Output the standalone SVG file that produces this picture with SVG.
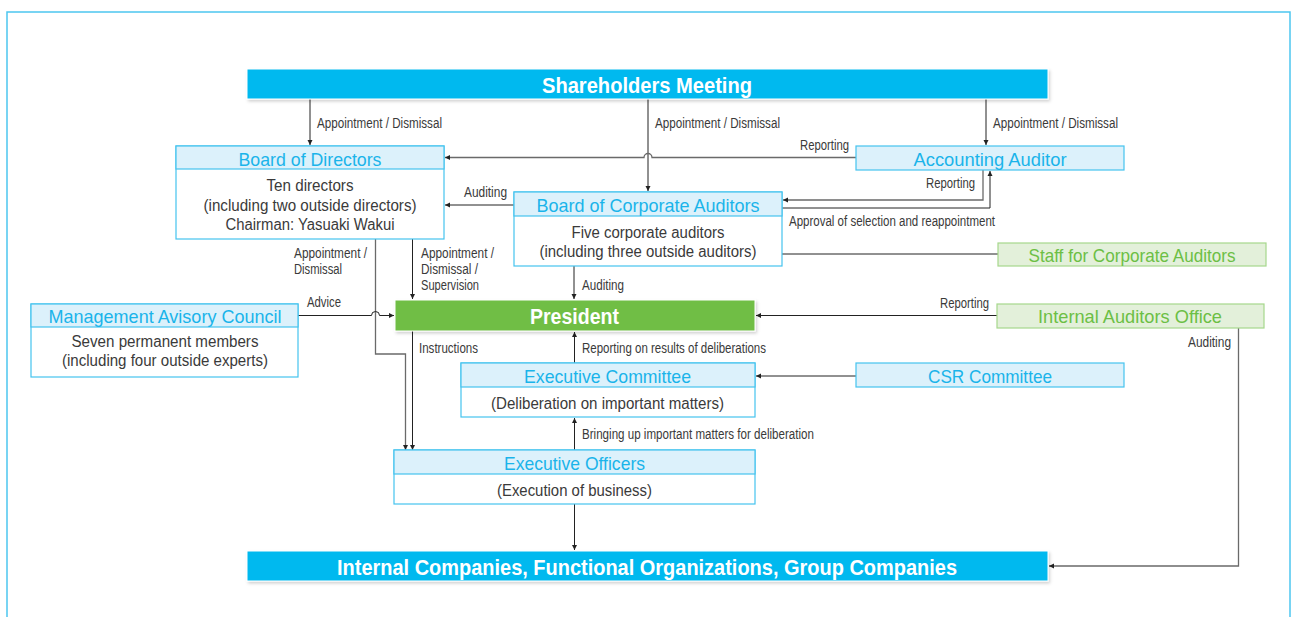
<svg xmlns="http://www.w3.org/2000/svg" width="1292" height="617" viewBox="0 0 1292 617">
<style>
.lbl{font-family:"Liberation Sans Narrow","Liberation Sans",Arial,sans-serif;font-size:13.8px;fill:#3a3a3a}
.ttl{font-family:"Liberation Sans Narrow","Liberation Sans",Arial,sans-serif;font-size:19px;fill:#1ab4ea;text-anchor:middle}
.gttl{font-family:"Liberation Sans Narrow","Liberation Sans",Arial,sans-serif;font-size:19px;fill:#6cbf45;text-anchor:middle}
.body{font-family:"Liberation Sans Narrow","Liberation Sans",Arial,sans-serif;font-size:16px;fill:#3a3a3a;text-anchor:middle}
.bar{font-family:"Liberation Sans Narrow","Liberation Sans",Arial,sans-serif;font-size:22px;font-weight:bold;fill:#ffffff;text-anchor:middle}
.hdr{fill:#dcf1fb;stroke:#45c3ef;stroke-width:1.2}
.box{fill:#ffffff;stroke:#45c3ef;stroke-width:1.2}
.gbox{fill:#e3f0da;stroke:#a6d78c;stroke-width:1.2}
.blk{fill:none;stroke:#222;stroke-width:1}
.gry{fill:none;stroke:#6a6a6a;stroke-width:1.3}
</style>
<defs>
<marker id="ah" markerWidth="6" markerHeight="6" refX="5" refY="3" orient="auto" markerUnits="userSpaceOnUse">
<path d="M0,0.5 L5,3 L0,5.5 Z" fill="#222"/>
</marker>
<filter id="sh" x="-5%" y="-30%" width="110%" height="170%">
<feDropShadow dx="1.5" dy="2" stdDeviation="1.5" flood-color="#000" flood-opacity="0.18"/>
</filter>
</defs>
<rect x="7" y="12" width="1283" height="620" fill="#ffffff" stroke="#4cc6f0" stroke-width="1.5"/>

<g id="connectors">
<line class="blk" x1="310" y1="99" x2="310" y2="145" marker-end="url(#ah)"/>
<text class="lbl" x="317" y="127.5" textLength="125" lengthAdjust="spacingAndGlyphs">Appointment / Dismissal</text>
<line class="blk" x1="648" y1="99" x2="648" y2="191" marker-end="url(#ah)"/>
<text class="lbl" x="655" y="127.5" textLength="125" lengthAdjust="spacingAndGlyphs">Appointment / Dismissal</text>
<line class="blk" x1="986" y1="99" x2="986" y2="145" marker-end="url(#ah)"/>
<text class="lbl" x="993" y="127.5" textLength="125" lengthAdjust="spacingAndGlyphs">Appointment / Dismissal</text>

<path class="gry" d="M856,157.5 H652 A4,4 0 0 0 644,157.5 H445" marker-end="url(#ah)"/>
<text class="lbl" x="800" y="149.5" textLength="49" lengthAdjust="spacingAndGlyphs">Reporting</text>

<line class="blk" x1="514" y1="205" x2="445" y2="205" marker-end="url(#ah)"/>
<text class="lbl" x="464" y="196.5" textLength="43" lengthAdjust="spacingAndGlyphs">Auditing</text>

<path class="gry" d="M983,170 V200 H783" marker-end="url(#ah)"/>
<text class="lbl" x="926" y="187.5" textLength="49" lengthAdjust="spacingAndGlyphs">Reporting</text>
<path class="blk" d="M782,208 H990 V171" marker-end="url(#ah)"/>
<text class="lbl" x="789" y="225.5" textLength="206" lengthAdjust="spacingAndGlyphs">Approval of selection and reappointment</text>

<line class="blk" x1="782" y1="254" x2="998" y2="254"/>

<line class="blk" x1="574" y1="266" x2="574" y2="299" marker-end="url(#ah)"/>
<text class="lbl" x="582" y="289.5" textLength="42" lengthAdjust="spacingAndGlyphs">Auditing</text>

<path class="gry" d="M375.5,239 V354 H405.5 V450" marker-end="url(#ah)"/>
<text class="lbl" x="294" y="257.5" textLength="73" lengthAdjust="spacingAndGlyphs">Appointment /</text>
<text class="lbl" x="294" y="274" textLength="48" lengthAdjust="spacingAndGlyphs">Dismissal</text>

<line class="blk" x1="412.5" y1="239" x2="412.5" y2="299" marker-end="url(#ah)"/>
<text class="lbl" x="421" y="257.5" textLength="73" lengthAdjust="spacingAndGlyphs">Appointment /</text>
<text class="lbl" x="421" y="274" textLength="57" lengthAdjust="spacingAndGlyphs">Dismissal /</text>
<text class="lbl" x="421" y="290" textLength="58" lengthAdjust="spacingAndGlyphs">Supervision</text>

<path class="blk" d="M298,315.5 H371.5 A4,4 0 0 1 379.5,315.5 H394" marker-end="url(#ah)"/>
<text class="lbl" x="307" y="306.5" textLength="34" lengthAdjust="spacingAndGlyphs">Advice</text>

<line class="blk" x1="997" y1="315.5" x2="756" y2="315.5" marker-end="url(#ah)"/>
<text class="lbl" x="940" y="307.5" textLength="49" lengthAdjust="spacingAndGlyphs">Reporting</text>

<line class="blk" x1="412.5" y1="331" x2="412.5" y2="450" marker-end="url(#ah)"/>
<text class="lbl" x="419" y="352.5" textLength="59" lengthAdjust="spacingAndGlyphs">Instructions</text>

<line class="blk" x1="574.5" y1="363" x2="574.5" y2="332" marker-end="url(#ah)"/>
<text class="lbl" x="582" y="352.5" textLength="184" lengthAdjust="spacingAndGlyphs">Reporting on results of deliberations</text>

<line class="blk" x1="856" y1="376" x2="756" y2="376" marker-end="url(#ah)"/>

<line class="blk" x1="574.5" y1="450" x2="574.5" y2="418" marker-end="url(#ah)"/>
<text class="lbl" x="582" y="438.5" textLength="232" lengthAdjust="spacingAndGlyphs">Bringing up important matters for deliberation</text>

<line class="blk" x1="574.5" y1="504" x2="574.5" y2="550" marker-end="url(#ah)"/>

<path class="gry" d="M1238.5,328 V566 H1049" marker-end="url(#ah)"/>
<text class="lbl" x="1188" y="346.5" textLength="43" lengthAdjust="spacingAndGlyphs">Auditing</text>
</g>

<g id="shareholders">
<rect x="247" y="69" width="801" height="30" fill="#00b9ef" stroke="#ffffff" stroke-width="1" filter="url(#sh)"/>
<text class="bar" x="647" y="92.5" textLength="210" lengthAdjust="spacingAndGlyphs">Shareholders Meeting</text>
</g>

<g id="board-of-directors">
<rect class="box" x="176" y="146" width="268" height="93"/>
<rect class="hdr" x="176" y="146" width="268" height="23"/>
<text class="ttl" x="310" y="165.5" textLength="143" lengthAdjust="spacingAndGlyphs">Board of Directors</text>
<text class="body" x="310" y="191" textLength="87" lengthAdjust="spacingAndGlyphs">Ten directors</text>
<text class="body" x="310" y="210.5" textLength="213" lengthAdjust="spacingAndGlyphs">(including two outside directors)</text>
<text class="body" x="310" y="229.5" textLength="169" lengthAdjust="spacingAndGlyphs">Chairman: Yasuaki Wakui</text>
</g>

<g id="accounting-auditor">
<rect class="hdr" x="856" y="146" width="268" height="24"/>
<text class="ttl" x="990" y="165.5" textLength="153" lengthAdjust="spacingAndGlyphs">Accounting Auditor</text>
</g>

<g id="board-of-corporate-auditors">
<rect class="box" x="514" y="192" width="268" height="74"/>
<rect class="hdr" x="514" y="192" width="268" height="24"/>
<text class="ttl" x="648" y="211.5" textLength="223" lengthAdjust="spacingAndGlyphs">Board of Corporate Auditors</text>
<text class="body" x="648" y="238" textLength="153" lengthAdjust="spacingAndGlyphs">Five corporate auditors</text>
<text class="body" x="648" y="257" textLength="217" lengthAdjust="spacingAndGlyphs">(including three outside auditors)</text>
</g>

<g id="staff-for-corporate-auditors">
<rect class="gbox" x="998" y="243" width="268" height="23"/>
<text class="gttl" x="1132" y="262" textLength="207" lengthAdjust="spacingAndGlyphs">Staff for Corporate Auditors</text>
</g>

<g id="management-advisory-council">
<rect class="box" x="31" y="304" width="267" height="73"/>
<rect class="hdr" x="31" y="304" width="267" height="23"/>
<text class="ttl" x="165" y="323" textLength="233" lengthAdjust="spacingAndGlyphs">Management Avisory Council</text>
<text class="body" x="165" y="347" textLength="187" lengthAdjust="spacingAndGlyphs">Seven permanent members</text>
<text class="body" x="165" y="365.5" textLength="206" lengthAdjust="spacingAndGlyphs">(including four outside experts)</text>
</g>

<g id="president">
<rect x="395" y="300" width="360" height="31" fill="#6fbe44" stroke="#ffffff" stroke-width="1" filter="url(#sh)"/>
<text class="bar" x="574.5" y="324" textLength="89" lengthAdjust="spacingAndGlyphs">President</text>
</g>

<g id="internal-auditors-office">
<rect class="gbox" x="997" y="304" width="267" height="24"/>
<text class="gttl" x="1130" y="323" textLength="184" lengthAdjust="spacingAndGlyphs">Internal Auditors Office</text>
</g>

<g id="executive-committee">
<rect class="box" x="461" y="363" width="294" height="54"/>
<rect class="hdr" x="461" y="363" width="294" height="24"/>
<text class="ttl" x="607.5" y="382.5" textLength="167" lengthAdjust="spacingAndGlyphs">Executive Committee</text>
<text class="body" x="607.5" y="408.5" textLength="233" lengthAdjust="spacingAndGlyphs">(Deliberation on important matters)</text>
</g>

<g id="csr-committee">
<rect class="hdr" x="856" y="363" width="268" height="24"/>
<text class="ttl" x="990" y="382.5" textLength="124" lengthAdjust="spacingAndGlyphs">CSR Committee</text>
</g>

<g id="executive-officers">
<rect class="box" x="394" y="450" width="361" height="54"/>
<rect class="hdr" x="394" y="450" width="361" height="24"/>
<text class="ttl" x="574.5" y="469.5" textLength="141" lengthAdjust="spacingAndGlyphs">Executive Officers</text>
<text class="body" x="574.5" y="495.5" textLength="155" lengthAdjust="spacingAndGlyphs">(Execution of business)</text>
</g>

<g id="internal-companies">
<rect x="247" y="551" width="801" height="30" fill="#00b9ef" stroke="#ffffff" stroke-width="1" filter="url(#sh)"/>
<text class="bar" x="647" y="574.5" textLength="620" lengthAdjust="spacingAndGlyphs">Internal Companies, Functional Organizations, Group Companies</text>
</g>
</svg>
